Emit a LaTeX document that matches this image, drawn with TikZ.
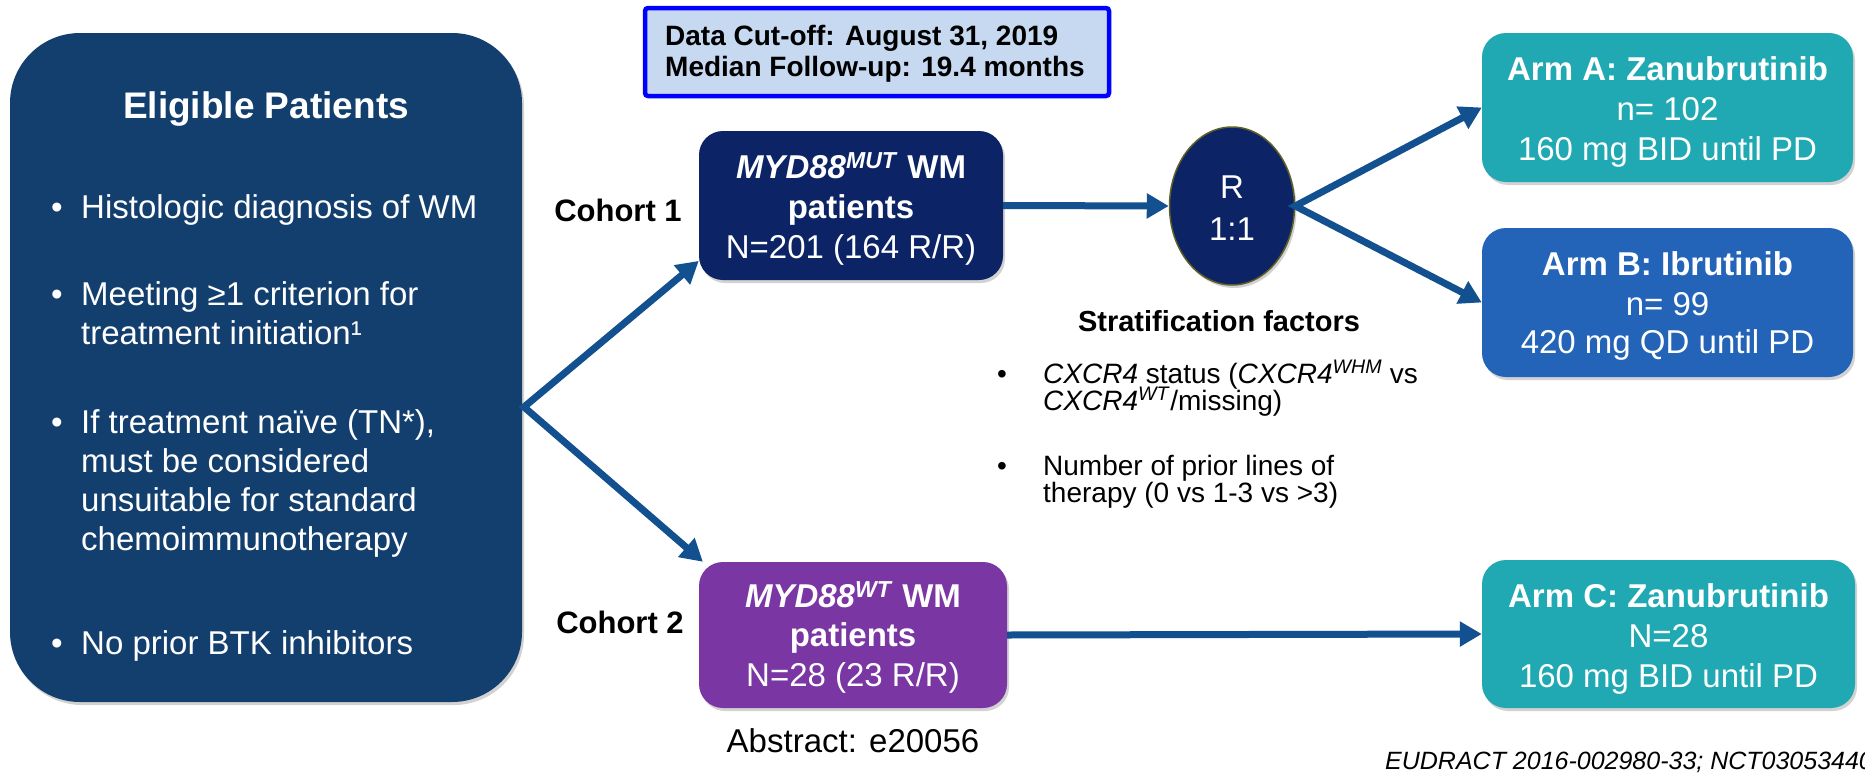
\documentclass[tikz,border=0pt]{standalone}
\usepackage{fontspec}
\setmainfont{Liberation Sans}
\usetikzlibrary{arrows.meta,shapes.geometric,calc,shadows}
\definecolor{lboxc}{RGB}{19,63,110}
\definecolor{navyc}{RGB}{12,36,102}
\definecolor{tealc}{RGB}{32,169,178}
\definecolor{armbc}{RGB}{36,100,184}
\definecolor{purpc}{RGB}{122,54,163}
\definecolor{arrc}{RGB}{19,80,143}
\definecolor{topfillc}{RGB}{198,217,240}
\definecolor{toplinec}{RGB}{0,0,255}
\definecolor{olivec}{RGB}{95,95,40}
\tikzset{
  box/.style={rounded corners=24pt, inner sep=0pt,
    drop shadow={shadow xshift=2pt,shadow yshift=-3pt,opacity=0.35}},
  wt/.style={text=white, inner sep=0pt, anchor=base},
  bk/.style={text=black, inner sep=0pt, anchor=base},
  tt/.style={font=\fontsize{33pt}{39pt}\selectfont},
  bb/.style={font=\fontsize{33pt}{39pt}\selectfont\bfseries},
  ts/.style={font=\fontsize{28pt}{28pt}\selectfont},
  conn/.style={draw=arrc, line width=7pt, line join=miter,
    -{Triangle[length=22pt,width=24pt]}},
  conn2/.style={draw=arrc, line width=7pt, line join=miter,
    {Triangle[length=22pt,width=24pt]}-{Triangle[length=22pt,width=24pt]}},
}
\begin{document}
\begin{tikzpicture}[x=1pt,y=-1pt]
\path[use as bounding box, fill=white] (0,0) rectangle (1865,779);

% left box
\node[box, rounded corners=70pt, fill=lboxc, minimum width=512pt, minimum height=669pt] (lb) at (266,367.5) {};
\node[wt, font=\fontsize{37pt}{44pt}\selectfont\bfseries] (lbt) at (266,118) {Eligible Patients};
\node[wt,tt] (d1) at (57,218) {•};
\node[wt,tt,anchor=base west] (e1) at (81,218) {Histologic diagnosis of WM};
\node[wt,tt] (d2) at (57,305) {•};
\node[wt,tt,anchor=base west] (e2a) at (81,305) {Meeting ≥1 criterion for};
\node[wt,tt,anchor=base west] (e2b) at (81,344) {treatment initiation¹};
\node[wt,tt] (d3) at (57,433) {•};
\node[wt,tt,anchor=base west] (e3a) at (81,433) {If treatment naïve (TN*),};
\node[wt,tt,anchor=base west] (e3b) at (81,472) {must be considered};
\node[wt,tt,anchor=base west] (e3c) at (81,511) {unsuitable for standard};
\node[wt,tt,anchor=base west] (e3d) at (81,550) {chemoimmunotherapy};
\node[wt,tt] (d4) at (57,654) {•};
\node[wt,tt,anchor=base west] (e4) at (81,654) {No prior BTK inhibitors};

% top box
\node[draw=toplinec, line width=4.5pt, fill=topfillc, rounded corners=3pt, minimum width=464pt, minimum height=88pt, inner sep=0pt] (top) at (877,52) {};
\node[bk, anchor=base west, font=\fontsize{28pt}{33pt}\selectfont\bfseries] (top1) at (665,45) {Data Cut-off: August 31, 2019};
\node[bk, anchor=base west, font=\fontsize{28pt}{33pt}\selectfont\bfseries] (top2) at (665,76) {Median Follow-up: 19.4 months};

% cohort 1
\node[box, fill=navyc, minimum width=304pt, minimum height=149pt] (c1) at (851,205.5) {};
\node[wt,bb] (c1a) at (851,178) {\textit{MYD88}\textsuperscript{\textit{MUT}} WM};
\node[wt,bb] (c1b) at (851,218) {patients};
\node[wt,tt] (c1c) at (851,258) {N=201 (164 R/R)};
\node[bk, font=\fontsize{31pt}{36pt}\selectfont\bfseries] (k1) at (618,221) {Cohort 1};

% cohort 2
\node[box, fill=purpc, minimum width=308pt, minimum height=146pt] (c2) at (853,635) {};
\node[wt,bb] (c2a) at (853,607) {\textit{MYD88}\textsuperscript{\textit{WT}} WM};
\node[wt,bb] (c2b) at (853,646) {patients};
\node[wt,tt] (c2c) at (853,686) {N=28 (23 R/R)};
\node[bk, font=\fontsize{31pt}{36pt}\selectfont\bfseries] (k2) at (620,633) {Cohort 2};
\node[bk,tt] (abs) at (853,752) {Abstract: e20056};

% randomisation
\node[ellipse, fill=navyc, draw=olivec, line width=1.5pt, minimum width=125pt, minimum height=158pt, inner sep=0pt,
  drop shadow={shadow xshift=2pt,shadow yshift=-3pt,opacity=0.35}] (R) at (1232,206) {};
\node[wt,tt] (Ra) at (1232,198) {R};
\node[wt,tt] (Rb) at (1232,240) {1:1};

% arms
\node[box, fill=tealc, minimum width=371pt, minimum height=149pt] (armA) at (1667.5,107.5) {};
\node[wt,bb] (aA1) at (1667.5,80) {Arm A: Zanubrutinib};
\node[wt,tt] (aA2) at (1667.5,120) {n= 102};
\node[wt,tt] (aA3) at (1667.5,160) {160 mg BID until PD};

\node[box, fill=armbc, minimum width=371pt, minimum height=149pt] (armB) at (1667.5,302.5) {};
\node[wt,bb] (aB1) at (1667.5,275) {Arm B: Ibrutinib};
\node[wt,tt] (aB2) at (1667.5,315) {n= 99};
\node[wt,tt] (aB3) at (1667.5,353) {420 mg QD until PD};

\node[box, fill=tealc, minimum width=373pt, minimum height=148pt] (armC) at (1668.5,634) {};
\node[wt,bb] (aC1) at (1668.5,607) {Arm C: Zanubrutinib};
\node[wt,tt] (aC2) at (1668.5,647) {N=28};
\node[wt,tt] (aC3) at (1668.5,687) {160 mg BID until PD};

% stratification
\node[bk, font=\fontsize{29pt}{34pt}\selectfont\bfseries] (st) at (1219,331) {Stratification factors};
\node[bk,ts] (s1) at (1002,383) {•};
\node[bk,ts,anchor=base west] (s1a) at (1043,383) {\textit{CXCR4} status (\textit{CXCR4}\textsuperscript{\textit{WHM}} vs};
\node[bk,ts,anchor=base west] (s1b) at (1043,410) {\textit{CXCR4}\textsuperscript{\textit{WT}}/missing)};
\node[bk,ts] (s2) at (1002,475) {•};
\node[bk,ts,anchor=base west] (s2a) at (1043,475) {Number of prior lines of};
\node[bk,ts,anchor=base west] (s2b) at (1043,502) {therapy (0 vs 1-3 vs >3)};

% footer
\node[bk, anchor=base west, font=\fontsize{25pt}{30pt}\selectfont\itshape] (ft) at (1385,769) {EUDRACT 2016-002980-33; NCT03053440};

% connectors
\coordinate (split) at (524,407);
\draw[conn2] (c1.200) -- (split) -- (c2.154);
\draw[conn] (c1.east) -- (R.west);
\draw[conn2] (armA.west) -- (R.east) -- (armB.west);
\draw[conn] (c2.east) -- (armC.west);
\end{tikzpicture}
\end{document}
